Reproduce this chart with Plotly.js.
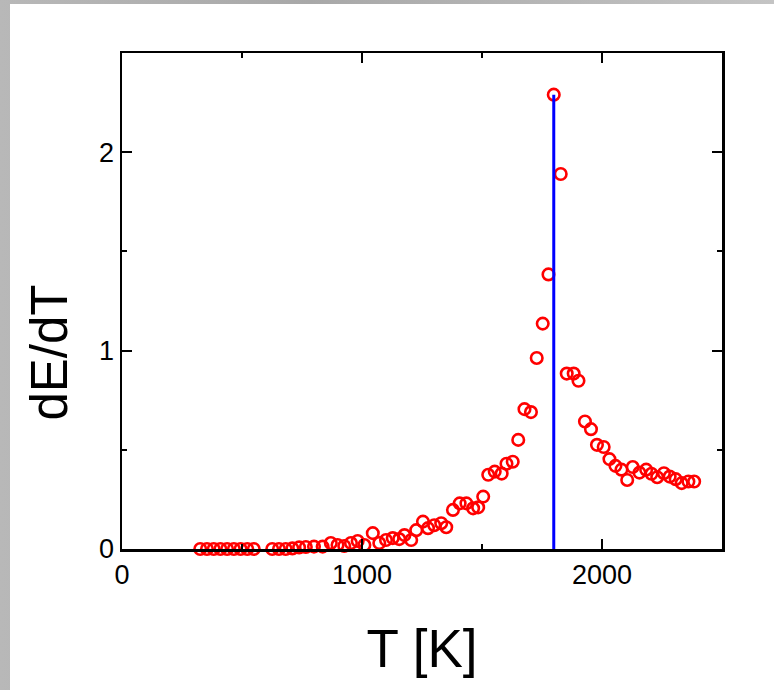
<!DOCTYPE html>
<html>
<head>
<meta charset="utf-8">
<script src="https://cdn.plot.ly/plotly-3.0.1.min.js"></script>
<style>
  html, body { margin: 0; padding: 0; width: 774px; height: 690px; overflow: hidden;
    background: linear-gradient(90deg, #b8b8b8, #a8a8a8 40%, #c4c4c4); }
  #plot { position: absolute; left: 10px; top: 4px; width: 764px; height: 686px; background: #fff; }
</style>
</head>
<body>
<div id="plot"></div>
<script>
// Temperature T [K]
const temperature = [
  326, 354, 382, 410, 438, 466, 494, 522, 549,
  626, 654, 682, 710, 738, 766, 800, 836, 870, 898, 926, 954, 982, 1010,
  1045, 1072, 1100, 1128, 1155, 1177, 1205, 1226, 1254, 1275, 1301, 1330,
  1351, 1379, 1407, 1435, 1463, 1484, 1505, 1526, 1553, 1582, 1602, 1628,
  1651, 1677, 1704, 1728, 1753, 1777, 1799, 1828, 1853, 1882, 1902, 1929,
  1954, 1979, 2007, 2031, 2056, 2081, 2105, 2128, 2156, 2184, 2206, 2230,
  2258, 2282, 2307, 2332, 2360, 2384
];
// dE/dT values
const dEdT = [
  0, 0, 0, 0, 0, 0, 0, 0, 0,
  0, 0, 0, 0.003, 0.008, 0.01, 0.012, 0.012, 0.03, 0.02, 0.015, 0.03, 0.04, 0.02,
  0.08, 0.03, 0.045, 0.055, 0.05, 0.07, 0.045, 0.095, 0.138, 0.105, 0.12, 0.13,
  0.11, 0.197, 0.23, 0.23, 0.205, 0.21, 0.264, 0.374, 0.39, 0.38, 0.43, 0.44,
  0.55, 0.705, 0.69, 0.963, 1.136, 1.384, 2.29, 1.89, 0.884, 0.884, 0.848, 0.643,
  0.604, 0.525, 0.514, 0.453, 0.419, 0.40, 0.348, 0.413, 0.385, 0.40, 0.379, 0.362,
  0.382, 0.365, 0.352, 0.332, 0.34, 0.34
];
// Peak marker line
const peakT = [1799, 1799];
const peakY = [0, 2.29];

const xTickVals = [0, 1000, 2000];
const xTickText = ['0', '1000', '2000'];
const yTickVals = [0, 1, 2];
const yTickText = ['0', '1', '2'];

const traces = [
  {
    x: temperature, y: dEdT, type: 'scatter', mode: 'markers',
    cliponaxis: false,
    marker: { symbol: 'circle-open', size: 11.5, color: '#ff0000', line: { width: 2.6, color: '#ff0000' } },
    hoverinfo: 'x+y'
  },
  {
    x: peakT, y: peakY, type: 'scatter', mode: 'lines',
    line: { color: '#0000ff', width: 3 },
    hoverinfo: 'none'
  }
];

const font = { family: 'Liberation Sans, Arial, Helvetica, sans-serif', color: '#000' };

const layout = {
  width: 764, height: 686,
  paper_bgcolor: '#ffffff', plot_bgcolor: '#ffffff',
  showlegend: false,
  margin: { l: 112, r: 52, t: 49, b: 141 },
  font: Object.assign({ size: 27 }, font),
  xaxis: {
    range: [0, 2500], showgrid: false, zeroline: false,
    showline: true, linecolor: '#000', linewidth: 2.5, mirror: 'ticks',
    ticks: 'inside', ticklen: 10, tickwidth: 2, tickcolor: '#000',
    tickvals: xTickVals, ticktext: xTickText,
    tickfont: Object.assign({ size: 27 }, font),
    minor: { dtick: 500, ticks: 'inside', ticklen: 5, tickwidth: 2, tickcolor: '#000', showgrid: false },
    title: { text: 'T [K]', font: Object.assign({ size: 53 }, font), standoff: 41 }
  },
  yaxis: {
    range: [0, 2.5], showgrid: false, zeroline: false,
    showline: true, linecolor: '#000', linewidth: 2.5, mirror: 'ticks',
    ticks: 'inside', ticklen: 10, tickwidth: 2, tickcolor: '#000',
    tickvals: yTickVals, ticktext: yTickText,
    tickfont: Object.assign({ size: 27 }, font),
    minor: { dtick: 0.5, ticks: 'inside', ticklen: 5, tickwidth: 2, tickcolor: '#000', showgrid: false }
  },
  annotations: [{
    text: 'dE/dT', textangle: -90, showarrow: false,
    xref: 'paper', yref: 'paper', x: -0.12, y: 0.396,
    xanchor: 'center', yanchor: 'middle',
    font: Object.assign({ size: 51 }, font)
  }]
};

Plotly.newPlot('plot', traces, layout, { displayModeBar: false, staticPlot: true });
</script>
</body>
</html>
